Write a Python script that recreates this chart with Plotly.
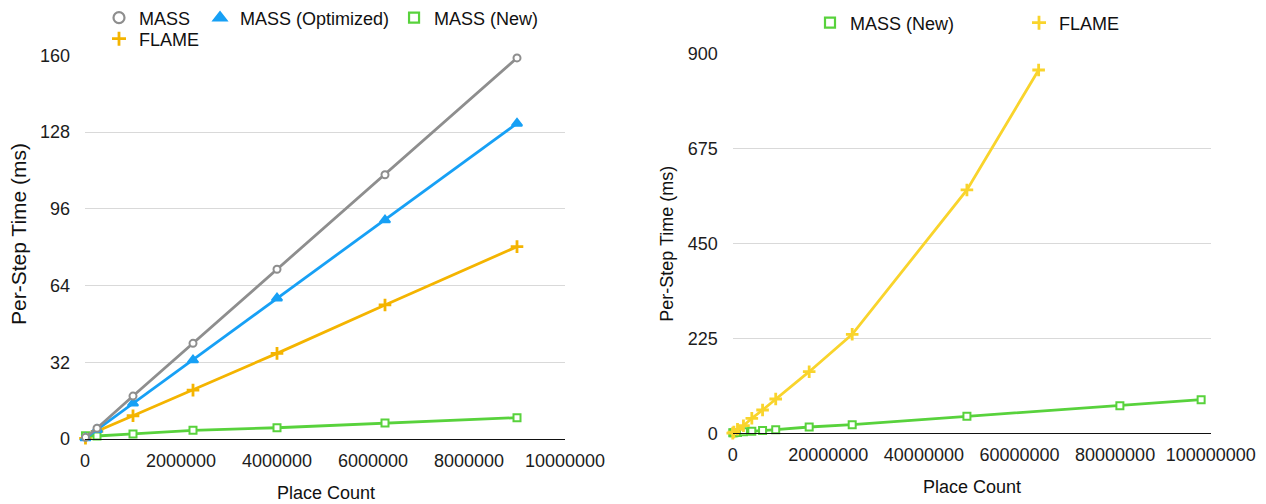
import plotly.graph_objects as go

# Place counts (grid sizes squared)
place_left = [10000, 250000, 1000000, 2250000, 4000000, 6250000, 9000000]
mass = [0.7, 4.5, 17.9, 39.9, 70.8, 110.2, 158.9]
mass_opt = [0.4, 3.9, 14.9, 32.9, 58.7, 91.3, 131.6]
mass_new_left = [1.4, 1.25, 2.1, 3.6, 4.7, 6.7, 8.9]
flame_left = [0.3, 3.2, 9.7, 20.4, 35.7, 55.9, 80.2]

place_right_flame = [10000, 250000, 1000000, 2250000, 4000000, 6250000,
                     9000000, 16000000, 25000000, 49000000, 64000000]
flame_right = [0.3, 3.0, 9.5, 18.0, 35.5, 55.2, 81.2, 145.9, 234.5, 576.3, 860.5]

place_right_new = [10000, 250000, 1000000, 2250000, 4000000, 6250000, 9000000,
                   16000000, 25000000, 49000000, 81000000, 98000000]
mass_new_right = [1.4, 1.25, 2.1, 3.6, 4.7, 6.5, 8.7, 14.9, 20.5, 40.3, 65.4, 79.6]

left_yticks = [0, 32, 64, 96, 128, 160]
right_yticks = [0, 225, 450, 675, 900]
left_xticks = [0, 2000000, 4000000, 6000000, 8000000, 10000000]
right_xticks = [0, 20000000, 40000000, 60000000, 80000000, 100000000]

GRAY = "#8e8e8e"
BLUE = "#17a0f5"
GREEN = "#58d23c"
ORANGE = "#f4b400"
YELLOW = "#f9d42c"
FONT = "Liberation Sans, Arial, sans-serif"
W, H = 1266, 504

fig = go.Figure()

line_w = 2.8


def series(x, y, color, symbol, fill, size, lw, xa, ya):
    fig.add_trace(go.Scatter(
        x=x, y=y, mode="lines+markers", xaxis=xa, yaxis=ya,
        line=dict(color=color, width=line_w),
        marker=dict(symbol=symbol, size=size, color=fill,
                    line=dict(color=color, width=lw)),
        showlegend=False, cliponaxis=False, hoverinfo="x+y"))


def legend_entry(name, color, symbol, fill, size, lw, legend):
    fig.add_trace(go.Scatter(
        x=[None], y=[None], mode="markers", name=name, legend=legend,
        marker=dict(symbol=symbol, size=size, color=fill,
                    line=dict(color=color, width=lw)),
        xaxis="x", yaxis="y"))


# left panel
series(place_left, flame_left, ORANGE, "cross-thin", ORANGE, 9, 2.8, "x", "y")
series(place_left, mass_new_left, GREEN, "square", "white", 7, 2, "x", "y")
series(place_left, mass_opt, BLUE, "triangle-up", BLUE, 9, 2, "x", "y")
series(place_left, mass, GRAY, "circle", "white", 7, 2, "x", "y")

# right panel
series(place_right_new, mass_new_right, GREEN, "square", "white", 7, 2, "x2", "y2")
series(place_right_flame, flame_right, YELLOW, "cross-thin", YELLOW, 9, 2.8, "x2", "y2")

# legends
legend_entry("MASS\u00a0", GRAY, "circle", "white", 11, 2.2, "legend")
legend_entry("MASS (Optimized)", BLUE, "triangle-up", BLUE, 11, 2.2, "legend")
legend_entry("MASS (New)", GREEN, "square", "white", 10, 2.2, "legend")
legend_entry("FLAME", ORANGE, "cross-thin", ORANGE, 10, 2.8, "legend3")
legend_entry("MASS (New)", GREEN, "square", "white", 10, 2.2, "legend2")
legend_entry("FLAME", YELLOW, "cross-thin", YELLOW, 10, 2.8, "legend2")

tick_font = dict(family=FONT, size=18, color="#1c1c1c")
legend_font = dict(family=FONT, size=18, color="#111111")


def px_x(p):
    return p / W


def px_y(p):
    return 1 - p / H


xaxis_common = dict(showgrid=False, zeroline=False, showline=True, linecolor="#111111",
                    linewidth=1.2, ticks="", tickfont=tick_font, tickformat="d",
                    ticklabelstandoff=5, automargin=False)
yaxis_common = dict(showgrid=True, gridcolor="#d9d9d9", gridwidth=1, zeroline=False,
                    showline=False, ticks="", tickfont=tick_font, ticklabelstandoff=14,
                    automargin=False)

fig.update_layout(
    width=W, height=H,
    margin=dict(l=0, r=0, t=0, b=0, autoexpand=False),
    paper_bgcolor="white", plot_bgcolor="white",
    font=dict(family=FONT),
    xaxis=dict(domain=[px_x(85), px_x(565)], range=[0, 10000000],
               tickvals=left_xticks, anchor="y", **xaxis_common),
    yaxis=dict(domain=[px_y(439), px_y(55.3)], range=[0, 160],
               tickvals=left_yticks, anchor="x", **yaxis_common),
    xaxis2=dict(domain=[px_x(732.7), px_x(1210.7)], range=[0, 100000000],
                tickvals=right_xticks, anchor="y2", **xaxis_common),
    yaxis2=dict(domain=[px_y(433.3), px_y(53.3)], range=[0, 900],
                tickvals=right_yticks, anchor="x2", **yaxis_common),
    legend=dict(orientation="h", x=px_x(99), y=px_y(18), xanchor="left", yanchor="middle",
                font=legend_font, bgcolor="rgba(0,0,0,0)", itemclick=False),
    legend3=dict(orientation="h", x=px_x(99), y=px_y(39), xanchor="left", yanchor="middle",
                 font=legend_font, bgcolor="rgba(0,0,0,0)", itemclick=False),
    legend2=dict(orientation="h", x=px_x(810), y=px_y(23), xanchor="left", yanchor="middle",
                 font=legend_font, bgcolor="rgba(0,0,0,0)", itemclick=False,
                 entrywidth=164, entrywidthmode="pixels"),
)

title_font = dict(family=FONT, size=18, color="#111111")
fig.add_annotation(text="Place Count", x=px_x(326), y=px_y(492.7), xref="paper", yref="paper",
                   showarrow=False, font=title_font, xanchor="center", yanchor="middle")
fig.add_annotation(text="Place Count", x=px_x(971.7), y=px_y(486.7), xref="paper", yref="paper",
                   showarrow=False, font=title_font, xanchor="center", yanchor="middle")
fig.add_annotation(text="Per-Step Time (ms)", x=px_x(18), y=px_y(234), xref="paper", yref="paper",
                   showarrow=False, font=dict(family=FONT, size=21, color="#111111"),
                   textangle=-90, xanchor="center", yanchor="middle")
fig.add_annotation(text="Per-Step Time (ms)", x=px_x(666.7), y=px_y(244), xref="paper", yref="paper",
                   showarrow=False, font=title_font, textangle=-90,
                   xanchor="center", yanchor="middle")

fig.write_html("out.html")
